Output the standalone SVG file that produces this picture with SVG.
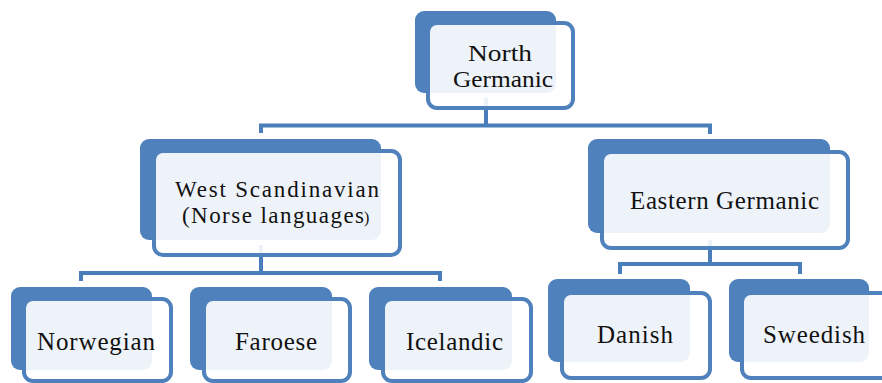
<svg xmlns="http://www.w3.org/2000/svg" width="882" height="383" viewBox="0 0 882 383">
<style>
.back{fill:#4f81bd}
.front{fill:#ffffff;fill-opacity:0.9;stroke:#4f81bd;stroke-width:4}
.conn{fill:none;stroke:#4a7ebb;stroke-width:4}
.t{font-family:"Liberation Serif","Times New Roman",serif;font-size:25px;fill:#111}
.s{font-size:23px}
</style>
<rect width="882" height="383" fill="#ffffff"/>
<g id="connectors">
<path class="conn" d="M486,98 V125.5 M259,125.5 H712 M261,124 V133 M710,124 V134"/>
<path class="conn" d="M261,245 V273 M79,273 H442 M81,271 V281 M440,271 V281"/>
<path class="conn" d="M710,240 V264 M618,264 H802 M620,262 V274 M800,262 V274"/>
</g>
<g id="north-germanic">
<rect class="back" x="415" y="11" width="141" height="82" rx="9"/>
<rect class="front" x="428" y="23" width="145" height="85" rx="9"/>
<text class="t s" x="468" y="61" textLength="64" lengthAdjust="spacingAndGlyphs">North</text>
<text class="t s" x="453" y="87" textLength="100" lengthAdjust="spacingAndGlyphs">Germanic</text>
</g>
<g id="west-scandinavian">
<rect class="back" x="140" y="139" width="241" height="101" rx="9"/>
<rect class="front" x="154" y="151" width="246" height="104" rx="9"/>
<text class="t s" x="175" y="197" textLength="204" lengthAdjust="spacing">West Scandinavian</text>
<text class="t s" x="182" y="223" textLength="182" lengthAdjust="spacing">(Norse languages</text>
<text class="t" x="364" y="223" style="font-size:16px">)</text>
</g>
<g id="eastern-germanic">
<rect class="back" x="588" y="139" width="242" height="94" rx="9"/>
<rect class="front" x="602" y="152" width="246" height="96" rx="9"/>
<text class="t" x="630" y="209" textLength="189" lengthAdjust="spacing">Eastern Germanic</text>
</g>
<g id="norwegian">
<rect class="back" x="11" y="287" width="141" height="83" rx="9"/>
<rect class="front" x="24" y="299" width="147" height="82" rx="9"/>
<text class="t" x="37" y="350" textLength="118" lengthAdjust="spacing">Norwegian</text>
</g>
<g id="faroese">
<rect class="back" x="190" y="287" width="142" height="83" rx="9"/>
<rect class="front" x="204" y="299" width="146" height="82" rx="9"/>
<text class="t" x="235" y="350" textLength="82" lengthAdjust="spacing">Faroese</text>
</g>
<g id="icelandic">
<rect class="back" x="369" y="287" width="143" height="83" rx="9"/>
<rect class="front" x="383" y="299" width="148" height="82" rx="9"/>
<text class="t" x="406" y="350" textLength="97" lengthAdjust="spacing">Icelandic</text>
</g>
<g id="danish">
<rect class="back" x="548" y="279" width="142" height="83" rx="9"/>
<rect class="front" x="562" y="293" width="148" height="85" rx="9"/>
<text class="t" x="597" y="343" textLength="76" lengthAdjust="spacing">Danish</text>
</g>
<g id="sweedish">
<rect class="back" x="729" y="279" width="140" height="83" rx="9"/>
<rect class="front" x="742" y="293" width="148" height="85" rx="9"/>
<text class="t" x="763" y="343" textLength="102" lengthAdjust="spacing">Sweedish</text>
</g>
</svg>
